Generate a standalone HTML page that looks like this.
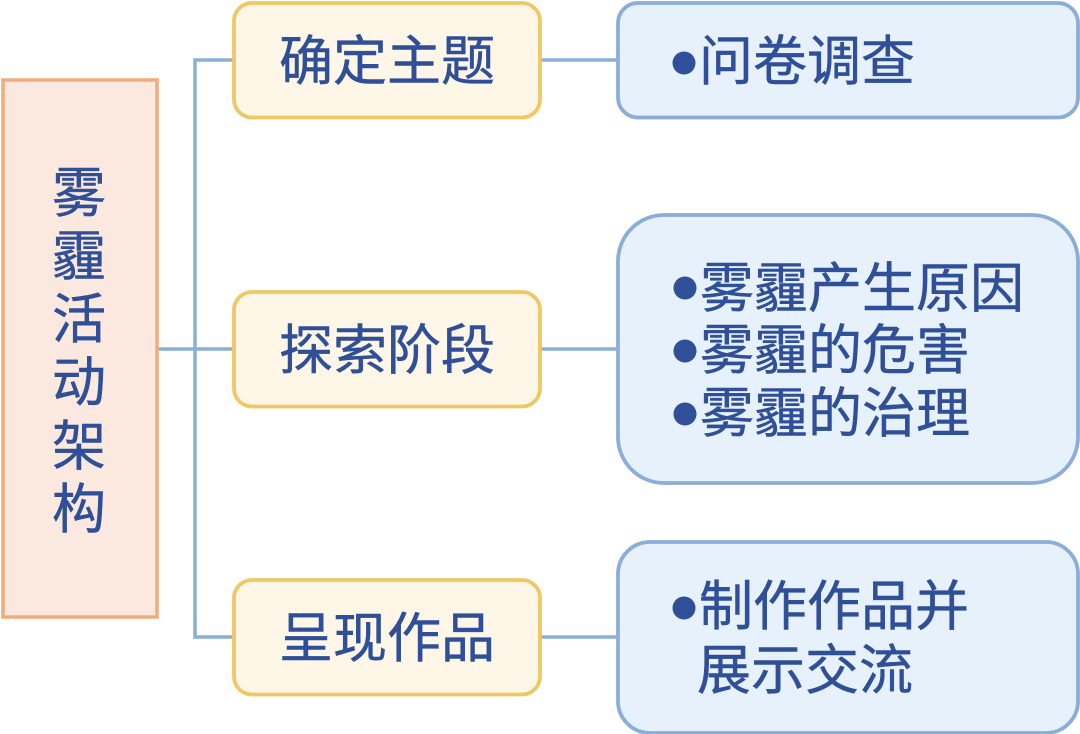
<!DOCTYPE html>
<html lang="zh">
<head>
<meta charset="utf-8">
<style>
html,body{margin:0;padding:0;background:#fff}
svg{display:block}
text{font-family:"Liberation Sans","Noto Sans CJK SC",sans-serif;fill:#2f4f98;stroke:#2f4f98;stroke-width:.5}
</style>
</head>
<body>
<svg width="1080" height="734" viewBox="0 0 1080 734" xmlns="http://www.w3.org/2000/svg">
<g fill="none" stroke="#8aadd9" stroke-width="3.500">
<path d="M158 349H233"/>
<path d="M233 60H195V637H233"/>
<path d="M541 60H618"/>
<path d="M541 349H618"/>
<path d="M541 637H618"/>
</g>
<rect x="3" y="80" width="154" height="537" fill="#fbe9e0" stroke="#f2ac7b" stroke-width="3.500"/>
<g fill="#fef7e7" stroke="#f1c766" stroke-width="3.800">
<rect x="234" y="3" width="306" height="114.500" rx="18"/>
<rect x="234" y="292" width="306" height="114.500" rx="18"/>
<rect x="234" y="580" width="306" height="114.500" rx="18"/>
</g>
<g fill="#e7f1fb" stroke="#8aadd9" stroke-width="3.800">
<rect x="618" y="3" width="460" height="114.500" rx="20"/>
<rect x="618" y="215" width="460" height="268" rx="46"/>
<rect x="618" y="542" width="460" height="191" rx="32"/>
</g>
<g font-size="54" text-anchor="middle">
<text x="79" y="212">雾</text>
<text x="79" y="275">霾</text>
<text x="79" y="338">活</text>
<text x="79" y="401">动</text>
<text x="79" y="465">架</text>
<text x="79" y="528">构</text>
<text x="387" y="80">确定主题</text>
<text x="387" y="369">探索阶段</text>
<text x="387" y="657">呈现作品</text>
</g>
<g fill="#2f4f98">
<circle cx="684" cy="63" r="11.500"/>
<circle cx="685" cy="288" r="11.500"/>
<circle cx="685" cy="351" r="11.500"/>
<circle cx="685" cy="414" r="11.500"/>
<circle cx="684" cy="608" r="11.500"/>
</g>
<g font-size="54">
<text x="699" y="80">问卷调查</text>
<text x="700" y="307">雾霾产生原因</text>
<text x="700" y="369">雾霾的危害</text>
<text x="700" y="432">雾霾的治理</text>
<text x="699" y="625">制作作品并</text>
<text x="697" y="689">展示交流</text>
</g>
</svg>
</body>
</html>
